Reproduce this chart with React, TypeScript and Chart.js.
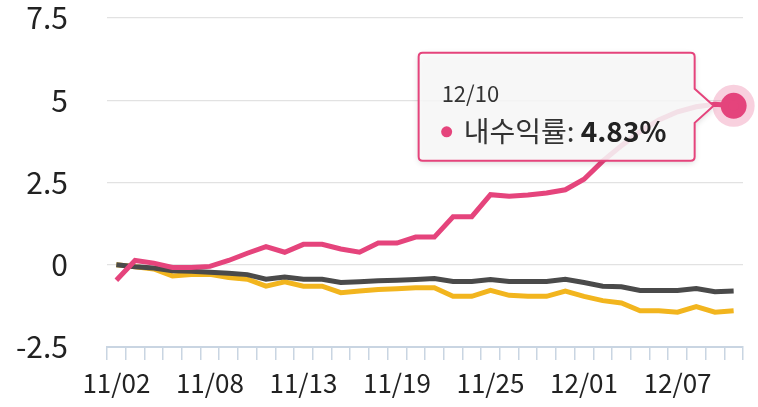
import React, { useEffect, useRef } from "react";
import { Chart, registerables } from "chart.js";

Chart.register(...registerables);

const dates = [
  "11/02", "11/03", "11/04", "11/05", "11/06", "11/08", "11/09", "11/10", "11/11", "11/12",
  "11/13", "11/14", "11/15", "11/16", "11/17", "11/19", "11/20", "11/21", "11/22", "11/23",
  "11/25", "11/26", "11/27", "11/28", "11/29", "12/01", "12/02", "12/03", "12/04", "12/05",
  "12/07", "12/08", "12/09", "12/10",
];

const myReturn = [
  -0.47, 0.13, 0.05, -0.08, -0.08, -0.05, 0.13, 0.35, 0.55, 0.38,
  0.62, 0.62, 0.48, 0.38, 0.66, 0.66, 0.84, 0.84, 1.46, 1.46,
  2.13, 2.08, 2.12, 2.18, 2.28, 2.6, 3.15, 3.62, 4.05, 4.4,
  4.65, 4.8, 4.88, 4.83,
];

const indexA = [
  0.0, -0.06, -0.1, -0.18, -0.2, -0.23, -0.26, -0.3, -0.44, -0.37,
  -0.44, -0.44, -0.54, -0.52, -0.49, -0.47, -0.45, -0.42, -0.51, -0.51,
  -0.45, -0.51, -0.51, -0.51, -0.44, -0.54, -0.65, -0.67, -0.78, -0.78,
  -0.78, -0.72, -0.82, -0.8,
];

const indexB = [
  0.0, -0.06, -0.13, -0.34, -0.3, -0.29, -0.39, -0.44, -0.65, -0.52,
  -0.65, -0.65, -0.85, -0.8, -0.75, -0.73, -0.7, -0.7, -0.96, -0.96,
  -0.78, -0.93, -0.96, -0.96, -0.8, -0.96, -1.09, -1.16, -1.4, -1.4,
  -1.44, -1.27, -1.44, -1.4,
];

const seriesNames = ["내수익률", "코스피", "코스닥"];
const yTicks = [-2.5, 0, 2.5, 5, 7.5];

const FONT = "'Noto Sans CJK KR', 'Noto Sans', sans-serif";
const PINK = "#e5447c";

const tooltipPlugin = {
  id: "staticTooltip",
  afterDatasetsDraw(chart: any) {
    const meta = chart.getDatasetMeta(0);
    const last = dates.length - 1;
    const pt = meta.data[last];
    if (!pt) return;
    const ctx = chart.ctx;
    const px = pt.x;
    const py = pt.y;
    const right = px - 39;
    const w = 276;
    const h = 108;
    const left = right - w;
    const top = py - 53;
    const r = 4;
    const tipX = px - 20;

    ctx.save();
    ctx.beginPath();
    ctx.moveTo(left + r, top);
    ctx.lineTo(right - r, top);
    ctx.quadraticCurveTo(right, top, right, top + r);
    ctx.lineTo(right, py - 17);
    ctx.lineTo(tipX, py);
    ctx.lineTo(right, py + 17);
    ctx.lineTo(right, top + h - r);
    ctx.quadraticCurveTo(right, top + h, right - r, top + h);
    ctx.lineTo(left + r, top + h);
    ctx.quadraticCurveTo(left, top + h, left, top + h - r);
    ctx.lineTo(left, top + r);
    ctx.quadraticCurveTo(left, top, left + r, top);
    ctx.closePath();
    ctx.shadowColor = "rgba(0,0,0,0.18)";
    ctx.shadowBlur = 6;
    ctx.shadowOffsetY = 2;
    ctx.fillStyle = "rgba(252,252,252,0.86)";
    ctx.fill();
    ctx.shadowColor = "transparent";
    ctx.lineWidth = 2;
    ctx.strokeStyle = PINK;
    ctx.stroke();

    ctx.textBaseline = "middle";
    ctx.textAlign = "left";
    ctx.fillStyle = "#333";
    ctx.font = `400 22px ${FONT}`;
    ctx.fillText(dates[last], left + 23, top + 41);

    ctx.beginPath();
    ctx.arc(left + 28, top + 79, 5.5, 0, Math.PI * 2);
    ctx.fillStyle = PINK;
    ctx.fill();

    ctx.fillStyle = "#333";
    ctx.font = `400 28px ${FONT}`;
    const label = seriesNames[0] + ": ";
    ctx.fillText(label, left + 45, top + 79);
    const lw = ctx.measureText(label).width;
    ctx.font = `700 28px ${FONT}`;
    ctx.fillStyle = "#222";
    ctx.fillText(myReturn[last].toFixed(2) + "%", left + 45 + lw, top + 79);
    ctx.restore();
  },
};

export default function App() {
  const ref = useRef<HTMLCanvasElement | null>(null);

  useEffect(() => {
    if (!ref.current) return;
    const last = dates.length - 1;
    const chart = new Chart(ref.current, {
      type: "line",
      data: {
        labels: dates,
        datasets: [
          {
            label: seriesNames[0],
            data: myReturn,
            borderColor: PINK,
            borderWidth: 5,
            pointRadius: (c: any) => (c.dataIndex === last ? 13 : 0),
            pointBackgroundColor: PINK,
            pointBorderColor: "rgba(229,68,124,0.25)",
            pointBorderWidth: 16,
            tension: 0,
            clip: false,
          },
          {
            label: seriesNames[1],
            data: indexA,
            borderColor: "#4a4a4a",
            borderWidth: 5,
            pointRadius: 0,
            tension: 0,
          },
          {
            label: seriesNames[2],
            data: indexB,
            borderColor: "#f2b51e",
            borderWidth: 5,
            pointRadius: 0,
            tension: 0,
          },
        ],
      },
      options: {
        responsive: false,
        animation: false,
        devicePixelRatio: 1,
        layout: { autoPadding: false, padding: { top: 18, right: 15, left: 0, bottom: 0 } },
        plugins: { legend: { display: false }, tooltip: { enabled: false } },
        events: [],
        scales: {
          x: {
            type: "category",
            offset: true,
            grid: {
              offset: true,
              drawOnChartArea: false,
              drawTicks: true,
              tickLength: 13,
              color: "#c9d5e2",
              lineWidth: 1.5,
            },
            border: { display: true, color: "#c9d5e2", width: 2 },
            ticks: {
              autoSkip: false,
              maxRotation: 0,
              minRotation: 0,
              padding: 8,
              color: "#222",
              font: { family: FONT, size: 26 },
              callback: (_v: any, i: number) => (i % 5 === 0 ? dates[i] : ""),
            },
            afterFit: (s: any) => {
              s.height = 60;
              s.paddingLeft = 0;
              s.paddingRight = 0;
            },
          },
          y: {
            min: yTicks[0],
            max: yTicks[yTicks.length - 1],
            afterBuildTicks: (s: any) => {
              s.ticks = yTicks.map((v) => ({ value: v }));
            },
            grid: {
              color: "#e2e2e2",
              lineWidth: 1.2,
              drawTicks: true,
              tickLength: 38,
              tickColor: "rgba(0,0,0,0)",
            },
            border: { display: false },
            ticks: {
              padding: 1,
              color: "#222",
              font: { family: FONT, size: 30 },
              callback: (v: any) => String(v),
            },
            afterFit: (s: any) => {
              s.width = 107;
              s.paddingTop = 0;
              s.paddingBottom = 0;
            },
          },
        },
      },
      plugins: [tooltipPlugin],
    } as any);
    return () => chart.destroy();
  }, []);

  return (
    <div style={{ position: "fixed", left: 0, top: 0, width: 758, height: 407, background: "#fff" }}>
      <canvas ref={ref} width={758} height={407} style={{ display: "block", width: 758, height: 407 }} />
    </div>
  );
}
